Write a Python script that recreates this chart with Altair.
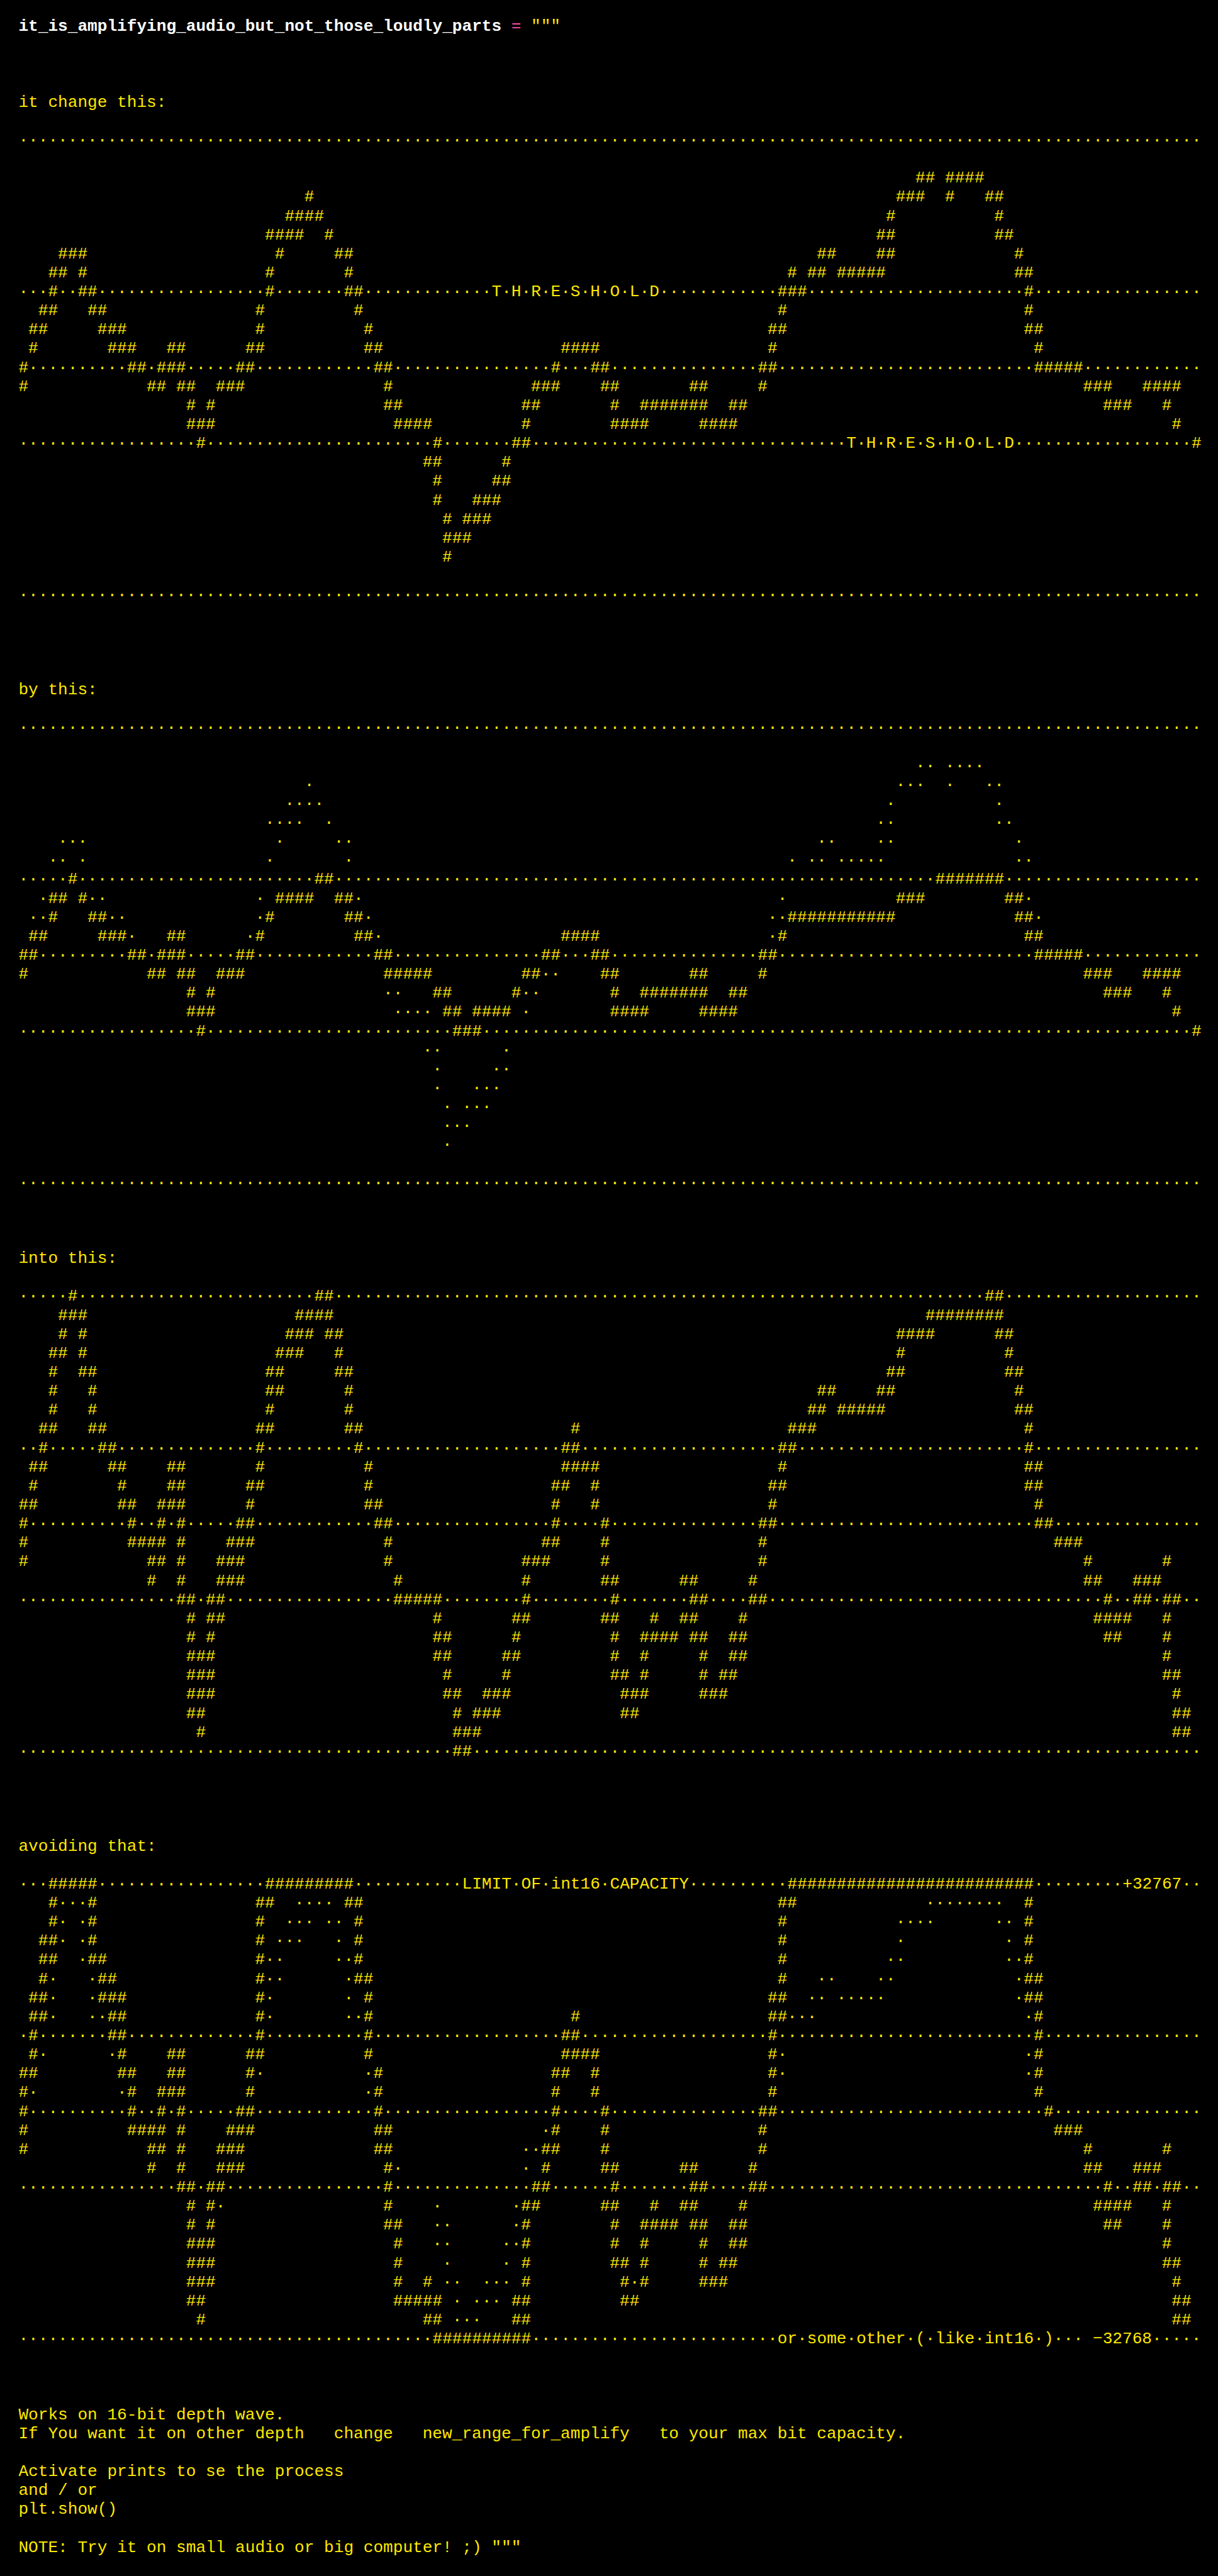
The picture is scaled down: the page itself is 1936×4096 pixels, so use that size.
import altair as alt
import pandas as pd

# ---------------- text content ----------------
TITLE = 'it_is_amplifying_audio_but_not_those_loudly_parts = """'
TITLE_KINDS = ["name", "op", "body"]

HEADERS = ["it change this:", "by this:", "into this:", "avoiding that:"]

NOTES = [
    "Works on 16-bit depth wave.",
    "If You want it on other depth   change   new_range_for_amplify   to your max bit capacity.",
    "",
    "Activate prints to se the process",
    "and / or",
    "plt.show()",
    "",
    'NOTE: Try it on small audio or big computer! ;) """',
]

ART_WIDTH = 120
DOT_ROWS = [0, 8, 12, 16, 24]

# each art row: list of (column, glyphs)
SEC1 = [
    [],
    [],
    [(91, "##"), (94, "####")],
    [(29, "#"), (89, "###"), (94, "#"), (98, "##")],
    [(27, "####"), (88, "#"), (99, "#")],
    [(25, "####"), (31, "#"), (87, "##"), (99, "##")],
    [(4, "###"), (26, "#"), (32, "##"), (81, "##"), (87, "##"), (101, "#")],
    [(3, "##"), (6, "#"), (25, "#"), (33, "#"), (78, "#"), (80, "##"), (83, "#####"), (101, "##")],
    [(3, "#"), (6, "##"), (25, "#"), (33, "##"), (48, "T·H·R·E·S·H·O·L·D"), (77, "###"), (102, "#")],
    [(2, "##"), (7, "##"), (24, "#"), (34, "#"), (77, "#"), (102, "#")],
    [(1, "##"), (8, "###"), (24, "#"), (35, "#"), (76, "##"), (102, "##")],
    [(1, "#"), (9, "###"), (15, "##"), (23, "##"), (35, "##"), (55, "####"), (76, "#"), (103, "#")],
    [(0, "#"), (11, "##"), (14, "###"), (22, "##"), (36, "##"), (54, "#"), (58, "##"), (75, "##"), (103, "#####")],
    [(0, "#"), (13, "##"), (16, "##"), (20, "###"), (37, "#"), (52, "###"), (59, "##"), (68, "##"), (75, "#"), (108, "###"), (114, "####")],
    [(17, "#"), (19, "#"), (37, "##"), (51, "##"), (60, "#"), (63, "#######"), (72, "##"), (110, "###"), (116, "#")],
    [(17, "###"), (38, "####"), (51, "#"), (60, "####"), (69, "####"), (117, "#")],
    [(18, "#"), (42, "#"), (50, "##"), (84, "T·H·R·E·S·H·O·L·D"), (119, "#")],
    [(41, "##"), (49, "#")],
    [(42, "#"), (48, "##")],
    [(42, "#"), (46, "###")],
    [(43, "#"), (45, "###")],
    [(43, "###")],
    [(43, "#")],
    [],
    [],
]

SEC2 = [
    [],
    [],
    [(91, "··"), (94, "····")],
    [(29, "·"), (89, "···"), (94, "·"), (98, "··")],
    [(27, "····"), (88, "·"), (99, "·")],
    [(25, "····"), (31, "·"), (87, "··"), (99, "··")],
    [(4, "···"), (26, "·"), (32, "··"), (81, "··"), (87, "··"), (101, "·")],
    [(3, "··"), (6, "·"), (25, "·"), (33, "·"), (78, "·"), (80, "··"), (83, "·····"), (101, "··")],
    [(5, "#"), (30, "##"), (93, "#######")],
    [(2, "·##"), (6, "#··"), (24, "·"), (26, "####"), (32, "##·"), (77, "·"), (89, "###"), (100, "##·")],
    [(1, "··#"), (7, "##··"), (24, "·#"), (33, "##·"), (76, "··###########"), (101, "##·")],
    [(1, "##"), (8, "###·"), (15, "##"), (23, "·#"), (34, "##·"), (55, "####"), (76, "·#"), (102, "##")],
    [(0, "##"), (11, "##"), (14, "###"), (22, "##"), (36, "##"), (53, "##"), (58, "##"), (75, "##"), (103, "#####")],
    [(0, "#"), (13, "##"), (16, "##"), (20, "###"), (37, "#####"), (51, "##··"), (59, "##"), (68, "##"), (75, "#"), (108, "###"), (114, "####")],
    [(17, "#"), (19, "#"), (37, "··"), (42, "##"), (50, "#··"), (60, "#"), (63, "#######"), (72, "##"), (110, "###"), (116, "#")],
    [(17, "###"), (38, "····"), (43, "##"), (46, "####"), (51, "·"), (60, "####"), (69, "####"), (117, "#")],
    [(18, "#"), (44, "###"), (119, "#")],
    [(41, "··"), (49, "·")],
    [(42, "·"), (48, "··")],
    [(42, "·"), (46, "···")],
    [(43, "·"), (45, "···")],
    [(43, "···")],
    [(43, "·")],
    [],
    [],
]

SEC3 = [
    [(5, "#"), (30, "##"), (98, "##")],
    [(4, "###"), (28, "####"), (92, "########")],
    [(4, "#"), (6, "#"), (27, "###"), (31, "##"), (89, "####"), (99, "##")],
    [(3, "##"), (6, "#"), (26, "###"), (32, "#"), (89, "#"), (100, "#")],
    [(3, "#"), (6, "##"), (25, "##"), (32, "##"), (88, "##"), (100, "##")],
    [(3, "#"), (7, "#"), (25, "##"), (33, "#"), (81, "##"), (87, "##"), (101, "#")],
    [(3, "#"), (7, "#"), (25, "#"), (33, "#"), (80, "##"), (83, "#####"), (101, "##")],
    [(2, "##"), (7, "##"), (24, "##"), (33, "##"), (56, "#"), (78, "###"), (102, "#")],
    [(2, "#"), (8, "##"), (24, "#"), (34, "#"), (55, "##"), (77, "##"), (102, "#")],
    [(1, "##"), (9, "##"), (15, "##"), (24, "#"), (35, "#"), (55, "####"), (77, "#"), (102, "##")],
    [(1, "#"), (10, "#"), (15, "##"), (23, "##"), (35, "#"), (54, "##"), (58, "#"), (76, "##"), (102, "##")],
    [(0, "##"), (10, "##"), (14, "###"), (23, "#"), (35, "##"), (54, "#"), (58, "#"), (76, "#"), (103, "#")],
    [(0, "#"), (11, "#"), (14, "#"), (16, "#"), (22, "##"), (36, "##"), (54, "#"), (59, "#"), (75, "##"), (103, "##")],
    [(0, "#"), (11, "####"), (16, "#"), (21, "###"), (37, "#"), (53, "##"), (59, "#"), (75, "#"), (105, "###")],
    [(0, "#"), (13, "##"), (16, "#"), (20, "###"), (37, "#"), (51, "###"), (59, "#"), (75, "#"), (108, "#"), (116, "#")],
    [(13, "#"), (16, "#"), (20, "###"), (38, "#"), (51, "#"), (59, "##"), (67, "##"), (74, "#"), (108, "##"), (113, "###")],
    [(16, "##"), (19, "##"), (38, "#####"), (51, "#"), (60, "#"), (68, "##"), (74, "##"), (110, "#"), (113, "##"), (116, "##")],
    [(17, "#"), (19, "##"), (42, "#"), (50, "##"), (59, "##"), (64, "#"), (67, "##"), (73, "#"), (109, "####"), (116, "#")],
    [(17, "#"), (19, "#"), (42, "##"), (50, "#"), (60, "#"), (63, "####"), (68, "##"), (72, "##"), (110, "##"), (116, "#")],
    [(17, "###"), (42, "##"), (49, "##"), (60, "#"), (63, "#"), (69, "#"), (72, "##"), (116, "#")],
    [(17, "###"), (43, "#"), (49, "#"), (60, "##"), (63, "#"), (69, "#"), (71, "##"), (116, "##")],
    [(17, "###"), (43, "##"), (47, "###"), (61, "###"), (69, "###"), (117, "#")],
    [(17, "##"), (44, "#"), (46, "###"), (61, "##"), (117, "##")],
    [(18, "#"), (44, "###"), (117, "##")],
    [(44, "##")],
]

SEC4 = [
    [(3, "#####"), (25, "#########"), (45, "LIMIT·OF·int16·CAPACITY"), (78, "#########################"), (112, "+32767")],
    [(3, "#···#"), (24, "##"), (28, "····"), (33, "##"), (77, "##"), (92, "········"), (102, "#")],
    [(3, "#·"), (6, "·#"), (24, "#"), (27, "···"), (31, "··"), (34, "#"), (77, "#"), (89, "····"), (99, "··"), (102, "#")],
    [(2, "##·"), (6, "·#"), (24, "#"), (26, "···"), (32, "·"), (34, "#"), (77, "#"), (89, "·"), (100, "·"), (102, "#")],
    [(2, "##"), (6, "·##"), (24, "#··"), (32, "··#"), (77, "#"), (88, "··"), (100, "··#")],
    [(2, "#·"), (7, "·##"), (24, "#··"), (33, "·##"), (77, "#"), (81, "··"), (87, "··"), (101, "·##")],
    [(1, "##·"), (7, "·###"), (24, "#·"), (33, "·"), (35, "#"), (76, "##"), (80, "··"), (83, "·····"), (101, "·##")],
    [(1, "##·"), (7, "··##"), (24, "#·"), (33, "··#"), (56, "#"), (76, "##···"), (102, "·#")],
    [(1, "#"), (9, "##"), (24, "#"), (35, "#"), (55, "##"), (76, "#"), (103, "#")],
    [(1, "#·"), (9, "·#"), (15, "##"), (23, "##"), (35, "#"), (55, "####"), (76, "#·"), (102, "·#")],
    [(0, "##"), (10, "##"), (15, "##"), (23, "#·"), (35, "·#"), (54, "##"), (58, "#"), (76, "#·"), (102, "·#")],
    [(0, "#·"), (10, "·#"), (14, "###"), (23, "#"), (35, "·#"), (54, "#"), (58, "#"), (76, "#"), (103, "#")],
    [(0, "#"), (11, "#"), (14, "#"), (16, "#"), (22, "##"), (36, "#"), (54, "#"), (59, "#"), (75, "##"), (104, "#")],
    [(0, "#"), (11, "####"), (16, "#"), (21, "###"), (36, "##"), (53, "·#"), (59, "#"), (75, "#"), (105, "###")],
    [(0, "#"), (13, "##"), (16, "#"), (20, "###"), (36, "##"), (51, "··##"), (59, "#"), (75, "#"), (108, "#"), (116, "#")],
    [(13, "#"), (16, "#"), (20, "###"), (37, "#·"), (51, "·"), (53, "#"), (59, "##"), (67, "##"), (74, "#"), (108, "##"), (113, "###")],
    [(16, "##"), (19, "##"), (37, "#"), (52, "##"), (60, "#"), (68, "##"), (74, "##"), (110, "#"), (113, "##"), (116, "##")],
    [(17, "#"), (19, "#·"), (37, "#"), (42, "·"), (50, "·##"), (59, "##"), (64, "#"), (67, "##"), (73, "#"), (109, "####"), (116, "#")],
    [(17, "#"), (19, "#"), (37, "##"), (42, "··"), (50, "·#"), (60, "#"), (63, "####"), (68, "##"), (72, "##"), (110, "##"), (116, "#")],
    [(17, "###"), (38, "#"), (42, "··"), (49, "··#"), (60, "#"), (63, "#"), (69, "#"), (72, "##"), (116, "#")],
    [(17, "###"), (38, "#"), (43, "·"), (49, "·"), (51, "#"), (60, "##"), (63, "#"), (69, "#"), (71, "##"), (116, "##")],
    [(17, "###"), (38, "#"), (41, "#"), (43, "··"), (47, "···"), (51, "#"), (61, "#·#"), (69, "###"), (117, "#")],
    [(17, "##"), (38, "#####"), (44, "·"), (46, "···"), (50, "##"), (61, "##"), (117, "##")],
    [(18, "#"), (41, "##"), (44, "···"), (50, "##"), (117, "##")],
    [(42, "##########"), (77, "or·some·other·(·like·int16·)"), (108, " −32768")],
]


# ---------------- build the text document ----------------
def art_lines(rows):
    out = []
    for k, segs in enumerate(rows):
        chars = ["·" if k in DOT_ROWS else " "] * ART_WIDTH
        for col, glyphs in segs:
            for i, ch in enumerate(glyphs):
                chars[col + i] = ch
        out.append("".join(chars))
    return out


doc = [TITLE, "", "", ""]
doc += [HEADERS[0], ""] + art_lines(SEC1) + ["", "", "", ""]
doc += [HEADERS[1], ""] + art_lines(SEC2) + ["", "", ""]
doc += [HEADERS[2], ""] + art_lines(SEC3) + ["", "", "", ""]
doc += [HEADERS[3], ""] + art_lines(SEC4) + ["", "", ""]
doc += NOTES


def runs(line):
    res, i = [], 0
    while i < len(line):
        if line[i] == " ":
            i += 1
            continue
        j = i
        while j < len(line) and line[j] != " ":
            j += 1
        res.append((i, line[i:j]))
        i = j
    return res


records = []
for r, line in enumerate(doc):
    for n, (c, t) in enumerate(runs(line)):
        kind = TITLE_KINDS[n] if r == 0 else "body"
        records.append({"row": r, "col": c, "text": t, "kind": kind})
df = pd.DataFrame(records)

# ---------------- layout / style ----------------
W, H = 1936, 4096
CHAR_W = 15.666
ROW_H = 30.14
LEFT = 29.4
ROW0 = 41.1
FS = CHAR_W / 0.6
FONT = "Liberation Mono"
YELLOW, WHITE, PINK = "#ffe800", "#ffffff", "#ff4fa3"

x_enc = alt.X("col:Q", scale=alt.Scale(domain=[-LEFT / CHAR_W, (W - LEFT) / CHAR_W], nice=False, zero=False), axis=None)
y_enc = alt.Y("row:Q", scale=alt.Scale(domain=[(H - ROW0) / ROW_H, -ROW0 / ROW_H], nice=False, zero=False), axis=None)
c_enc = alt.Color("kind:N", scale=alt.Scale(domain=["body", "name", "op"], range=[YELLOW, WHITE, PINK]), legend=None)

plain = alt.Chart(df[df["kind"] != "name"]).mark_text(
    align="left", baseline="middle", font=FONT, fontSize=FS
).encode(x=x_enc, y=y_enc, text="text:N", color=c_enc)

bold = alt.Chart(df[df["kind"] == "name"]).mark_text(
    align="left", baseline="middle", font=FONT, fontSize=FS, fontWeight="bold"
).encode(x=x_enc, y=y_enc, text="text:N", color=c_enc)

chart = alt.layer(plain, bold).properties(
    width=W, height=H, autosize=alt.AutoSizeParams(type="none"), padding=0, background="#000000"
).configure_view(stroke=None)

chart.save("out.html", embed_options={"renderer": "svg", "actions": False})
